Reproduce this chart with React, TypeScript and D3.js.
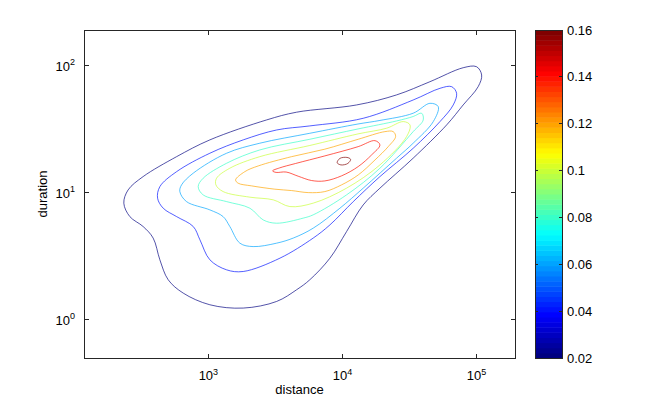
import React, { useEffect, useRef } from 'react';
import * as d3 from 'd3';

type Pt = [number, number];

// density levels drawn as contours; the colour axis runs from 0.02 to 0.16
const levels = [0.02, 0.04, 0.06, 0.08, 0.1, 0.12, 0.14, 0.16];

// contour lines, each point is [log10(distance), log10(duration)]
const contour002: Pt[] = [
  [2.369, 0.918], [2.401, 1.022], [2.513, 1.127], [2.763, 1.284], [3.011, 1.416], [3.434, 1.573],
  [3.658, 1.634], [4.106, 1.691], [4.404, 1.77], [4.653, 1.874], [4.901, 1.984], [5.001, 1.992],
  [5.039, 1.927], [5.013, 1.835], [4.901, 1.691], [4.778, 1.534], [4.528, 1.272], [4.28, 1.036],
  [4.155, 0.904], [4.031, 0.694], [3.907, 0.485], [3.757, 0.315], [3.658, 0.236], [3.509, 0.144],
  [3.26, 0.092], [3.011, 0.118], [2.812, 0.21], [2.7, 0.315], [2.638, 0.472], [2.588, 0.643],
  [2.513, 0.734], [2.414, 0.812],
];
const contour004: Pt[] = [
  [2.621, 0.957], [2.638, 1.048], [2.763, 1.166], [3.011, 1.311], [3.26, 1.416], [3.509, 1.494],
  [3.757, 1.526], [4.155, 1.586], [4.528, 1.73], [4.728, 1.822], [4.815, 1.835], [4.852, 1.783],
  [4.827, 1.691], [4.728, 1.56], [4.528, 1.35], [4.28, 1.127], [4.081, 0.93], [3.907, 0.747],
  [3.782, 0.643], [3.534, 0.485], [3.26, 0.38], [3.136, 0.393], [3.011, 0.472], [2.937, 0.629],
  [2.887, 0.734], [2.763, 0.812], [2.663, 0.878],
];
const contour006: Pt[] = [
  [2.787, 1.009], [2.8, 1.062], [2.887, 1.154], [3.136, 1.311], [3.384, 1.39], [3.757, 1.468],
  [4.116, 1.541], [4.28, 1.569], [4.528, 1.626], [4.653, 1.704], [4.715, 1.678], [4.678, 1.56],
  [4.528, 1.39], [4.404, 1.272], [4.155, 1.036], [3.981, 0.878], [3.782, 0.721], [3.633, 0.643],
  [3.509, 0.603], [3.334, 0.576], [3.235, 0.603], [3.16, 0.734], [3.11, 0.812], [3.011, 0.865],
  [2.837, 0.93],
];
const contour008: Pt[] = [
  [2.924, 1.048], [2.961, 1.114], [3.136, 1.232], [3.384, 1.337], [3.757, 1.421], [4.116, 1.502],
  [4.404, 1.565], [4.528, 1.6], [4.591, 1.626], [4.603, 1.573], [4.528, 1.481], [4.28, 1.193],
  [4.031, 0.983], [3.782, 0.826], [3.707, 0.8], [3.509, 0.76], [3.409, 0.786], [3.31, 0.878],
  [3.136, 0.93], [2.961, 0.983],
];
const contour010: Pt[] = [
  [3.056, 1.062], [3.061, 1.114], [3.16, 1.193], [3.384, 1.284], [3.757, 1.372], [4.116, 1.463],
  [4.33, 1.508], [4.454, 1.56], [4.504, 1.534], [4.479, 1.442], [4.28, 1.219], [4.031, 1.036],
  [3.782, 0.918], [3.608, 0.891], [3.484, 0.944], [3.31, 0.965], [3.11, 1.009],
];
const contour012: Pt[] = [
  [3.203, 1.101], [3.272, 1.166], [3.372, 1.211], [3.621, 1.284], [3.869, 1.343], [4.118, 1.421],
  [4.317, 1.481], [4.379, 1.481], [4.397, 1.442], [4.342, 1.363], [4.243, 1.258], [4.118, 1.14],
  [3.994, 1.062], [3.869, 1.009], [3.745, 1.001], [3.621, 1.017], [3.496, 1.028], [3.322, 1.054],
  [3.222, 1.075],
];
const contour014: Pt[] = [
  [3.479, 1.172], [3.53, 1.195], [3.65, 1.23], [3.869, 1.29], [4.118, 1.363], [4.243, 1.41],
  [4.28, 1.376], [4.218, 1.298], [4.118, 1.206], [3.994, 1.133], [3.869, 1.093], [3.77, 1.096],
  [3.67, 1.13], [3.58, 1.163], [3.505, 1.16],
];
const contour016: Pt[] = [
  [4.061, 1.263], [4.034, 1.278], [3.981, 1.27], [3.961, 1.236], [3.989, 1.219], [4.041, 1.231],
];
const contourLines = [contour002, contour004, contour006, contour008, contour010, contour012, contour014, contour016];

const xDomain = [118, 194000];
const yDomain = [0.5, 191];
const xTicks = [1e3, 1e4, 1e5];
const yTicks = [1, 10, 100];
const colorTicks = [0.02, 0.04, 0.06, 0.08, 0.1, 0.12, 0.14, 0.16];
const colorRange = [0.02, 0.16];

const FONT = '"Liberation Sans", Arial, Helvetica, sans-serif';

// MATLAB style jet colormap
const jet = (t: number) => {
  const c = (v: number) => Math.round(255 * Math.max(0, Math.min(1, v)));
  return `rgb(${c(1.5 - Math.abs(4 * t - 3))},${c(1.5 - Math.abs(4 * t - 2))},${c(1.5 - Math.abs(4 * t - 1))})`;
};

const App: React.FC = () => {
  const svgRef = useRef<SVGSVGElement>(null);

  useEffect(() => {
    if (!svgRef.current) return;
    const svg = d3.select(svgRef.current);
    svg.selectAll('*').remove();

    const left = 84, right = 515, top = 30, bottom = 358;
    const x = d3.scaleLog().domain(xDomain).range([left, right]);
    const y = d3.scaleLog().domain(yDomain).range([bottom, top]);
    const t = (v: number) => (v - colorRange[0]) / (colorRange[1] - colorRange[0]);

    svg.append('rect').attr('width', 646).attr('height', 402).attr('fill', '#fff');

    // contours
    const line = d3.line<Pt>()
      .x(d => x(Math.pow(10, d[0])))
      .y(d => y(Math.pow(10, d[1])))
      .curve(d3.curveCatmullRomClosed.alpha(0.5));

    svg.append('g')
      .selectAll('path')
      .data(contourLines)
      .enter()
      .append('path')
      .attr('d', d => line(d))
      .attr('fill', 'none')
      .attr('stroke', (d, i) => jet(t(levels[i])))
      .attr('stroke-width', 0.8)
      .attr('stroke-opacity', 0.85);

    // axes box + ticks
    const axisColor = '#262626';
    svg.append('rect')
      .attr('x', left).attr('y', top)
      .attr('width', right - left).attr('height', bottom - top)
      .attr('fill', 'none').attr('stroke', axisColor).attr('stroke-width', 1)
      .attr('shape-rendering', 'crispEdges');

    const tl = 4.5;
    const ticks = svg.append('g').attr('stroke', axisColor).attr('shape-rendering', 'crispEdges');
    xTicks.forEach(v => {
      ticks.append('line').attr('x1', x(v)).attr('x2', x(v)).attr('y1', bottom).attr('y2', bottom - tl);
      ticks.append('line').attr('x1', x(v)).attr('x2', x(v)).attr('y1', top).attr('y2', top + tl);
    });
    yTicks.forEach(v => {
      ticks.append('line').attr('x1', left).attr('x2', left + tl).attr('y1', y(v)).attr('y2', y(v));
      ticks.append('line').attr('x1', right).attr('x2', right - tl).attr('y1', y(v)).attr('y2', y(v));
    });

    const powLabel = (g: any, v: number) => {
      g.append('tspan').text('10');
      g.append('tspan').attr('dy', -5.5).attr('font-size', 9).text(String(Math.round(Math.log10(v))));
    };

    xTicks.forEach(v => {
      const tx = svg.append('text')
        .attr('x', x(v)).attr('y', 380)
        .attr('text-anchor', 'middle')
        .attr('font-family', FONT).attr('font-size', 13).attr('fill', '#000');
      powLabel(tx, v);
    });
    yTicks.forEach(v => {
      const tx = svg.append('text')
        .attr('x', 75).attr('y', y(v) + 5)
        .attr('text-anchor', 'end')
        .attr('font-family', FONT).attr('font-size', 13).attr('fill', '#000');
      powLabel(tx, v);
    });

    svg.append('text')
      .attr('x', (left + right) / 2).attr('y', 394)
      .attr('text-anchor', 'middle')
      .attr('font-family', FONT).attr('font-size', 13)
      .text('distance');
    svg.append('text')
      .attr('transform', `translate(46.5,${(top + bottom) / 2}) rotate(-90)`)
      .attr('text-anchor', 'middle')
      .attr('font-family', FONT).attr('font-size', 13)
      .text('duration');

    // colorbar
    const cbLeft = 535, cbRight = 562;
    const cy = d3.scaleLinear().domain(colorRange).range([bottom, top]);
    const n = 64;
    const bands = d3.range(n);
    const step = (colorRange[1] - colorRange[0]) / n;
    svg.append('g')
      .selectAll('rect')
      .data(bands)
      .enter()
      .append('rect')
      .attr('x', cbLeft)
      .attr('width', cbRight - cbLeft)
      .attr('y', i => cy(colorRange[0] + (i + 1) * step))
      .attr('height', i => cy(colorRange[0] + i * step) - cy(colorRange[0] + (i + 1) * step) + 0.5)
      .attr('fill', i => jet(i / (n - 1)));

    svg.append('rect')
      .attr('x', cbLeft).attr('y', top)
      .attr('width', cbRight - cbLeft).attr('height', bottom - top)
      .attr('fill', 'none').attr('stroke', axisColor).attr('stroke-width', 1)
      .attr('shape-rendering', 'crispEdges');

    const cbTicks = svg.append('g').attr('stroke', axisColor).attr('shape-rendering', 'crispEdges');
    colorTicks.forEach(v => {
      cbTicks.append('line').attr('x1', cbLeft).attr('x2', cbLeft + 3).attr('y1', cy(v)).attr('y2', cy(v));
      cbTicks.append('line').attr('x1', cbRight).attr('x2', cbRight - 3).attr('y1', cy(v)).attr('y2', cy(v));
      svg.append('text')
        .attr('x', 567).attr('y', cy(v) + 4.5)
        .attr('font-family', FONT).attr('font-size', 13)
        .text(String(+v.toFixed(2)));
    });
  }, []);

  return (
    <svg
      ref={svgRef}
      width={646}
      height={402}
      style={{ position: 'absolute', left: 0, top: 0 }}
    />
  );
};

export default App;
